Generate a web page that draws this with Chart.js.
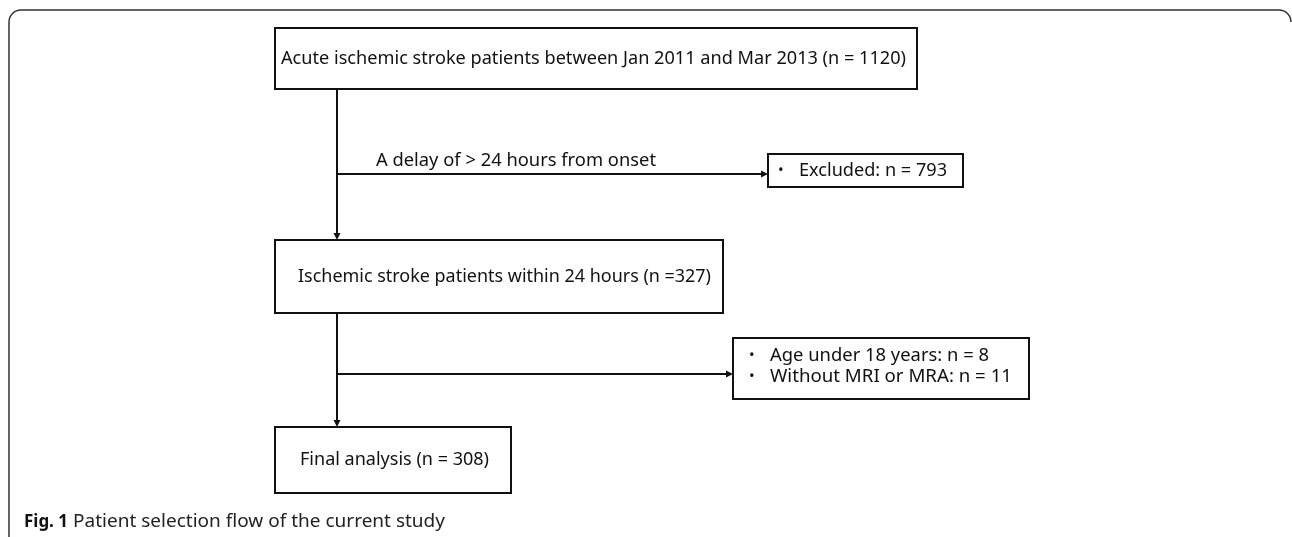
<!DOCTYPE html>
<html>
<head>
<meta charset="utf-8">
<script src="https://cdn.jsdelivr.net/npm/chart.js@4"></script>
<style>
  html, body { margin: 0; padding: 0; background: #fff; }
  canvas { display: block; }
</style>
</head>
<body>
<canvas id="flowChart" width="1292" height="537"></canvas>
<script>
// flow data
const stageLabels = [
    "Acute ischemic stroke patients between Jan 2011 and Mar 2013",
    "Ischemic stroke patients within 24 hours",
    "Final analysis"
];
const stageCounts = [1120, 327, 308];
const stageCountSep = [" = ", " =", " = "];
const branchLabels = ["A delay of > 24 hours from onset", ""];
const exclusionReasons = [["Excluded"], ["Age under 18 years", "Without MRI or MRA"]];
const exclusionCounts = [[793], [8, 11]];
const captionBold = "Fig. 1";
const captionText = "Patient selection flow of the current study";

// layout, in page pixels (x right, y down)
const stageBoxes = [
    { x0: 275, y0: 28, x1: 917, y1: 89, tx: 281, tw: 625 },
    { x0: 275, y0: 240, x1: 723, y1: 313, tx: 298, tw: 413 },
    { x0: 275, y0: 427, x1: 511, y1: 493, tx: 300, tw: 189 }
];
const trunkX = 337;
const branches = [
    { y: 174, x1: 768, label: { x: 376, y: 161, w: 280 },
      box: { x0: 768, y0: 154, x1: 963, y1: 187, bx: 778, tx: 799, ty: [171], tw: [148] } },
    { y: 374, x1: 733, label: null,
      box: { x0: 733, y0: 338, x1: 1029, y1: 399, bx: 749, tx: 770, ty: [356, 377], tw: [219, 242] } }
];
const fontFamily = "'Noto Sans', 'DejaVu Sans', sans-serif";

const flowPlugin = {
    id: "flow",
    afterDraw(chart) {
        const ctx = chart.ctx;
        const sx = chart.scales.x, sy = chart.scales.y;
        const px = v => sx.getPixelForValue(v);
        const py = v => sy.getPixelForValue(v);

        // fit text horizontally to a width while keeping its height
        function text(str, x, y, width, size, weight, color) {
            ctx.save();
            ctx.font = (weight || "normal") + " " + size + "px " + fontFamily;
            ctx.fillStyle = color || "#111";
            ctx.textBaseline = "middle";
            ctx.textAlign = "left";
            const w = ctx.measureText(str).width;
            const k = width ? width / w : 1;
            ctx.translate(px(x), py(y));
            ctx.scale(k, 1);
            ctx.fillText(str, 0, 0);
            ctx.restore();
            return w * k;
        }
        function rect(b) {
            ctx.save();
            ctx.lineWidth = 2;
            ctx.strokeStyle = "#111";
            ctx.strokeRect(px(b.x0), py(b.y0), px(b.x1) - px(b.x0), py(b.y1) - py(b.y0));
            ctx.restore();
        }
        function line(x0, y0, x1, y1) {
            ctx.save();
            ctx.lineWidth = 2;
            ctx.strokeStyle = "#111";
            ctx.beginPath();
            ctx.moveTo(px(x0), py(y0));
            ctx.lineTo(px(x1), py(y1));
            ctx.stroke();
            ctx.restore();
        }
        function arrowHead(x, y, dir) {
            ctx.save();
            ctx.fillStyle = "#111";
            ctx.beginPath();
            const X = px(x), Y = py(y);
            if (dir === "down") {
                ctx.moveTo(X, Y); ctx.lineTo(X - 3.5, Y - 7); ctx.lineTo(X + 3.5, Y - 7);
            } else {
                ctx.moveTo(X, Y); ctx.lineTo(X - 7, Y - 3.5); ctx.lineTo(X - 7, Y + 3.5);
            }
            ctx.closePath();
            ctx.fill();
            ctx.restore();
        }

        // outer rounded frame (open at the bottom and right)
        ctx.save();
        ctx.lineWidth = 1.5;
        ctx.strokeStyle = "#333";
        ctx.beginPath();
        ctx.moveTo(px(9), py(537));
        ctx.lineTo(px(9), py(22));
        ctx.arcTo(px(9), py(10), px(21), py(10), 12);
        ctx.lineTo(px(1279), py(10));
        ctx.arcTo(px(1291), py(10), px(1291), py(22), 12);
        ctx.stroke();
        ctx.restore();

        // stage boxes
        stageBoxes.forEach((b, i) => {
            rect(b);
            const cy = (b.y0 + b.y1) / 2;
            text(stageLabels[i] + " (n" + stageCountSep[i] + stageCounts[i] + ")", b.tx, cy, b.tw, 18);
        });

        // trunk arrows between stages
        for (let i = 0; i < stageBoxes.length - 1; i++) {
            const top = stageBoxes[i].y1, bottom = stageBoxes[i + 1].y0;
            line(trunkX, top, trunkX, bottom - 6);
            arrowHead(trunkX, bottom, "down");
        }

        // exclusion branches
        branches.forEach((br, i) => {
            line(trunkX, br.y, br.x1 - 6, br.y);
            arrowHead(br.x1, br.y, "right");
            if (br.label && branchLabels[i]) {
                text(branchLabels[i], br.label.x, br.label.y, br.label.w, 18);
            }
            rect(br.box);
            exclusionReasons[i].forEach((r, j) => {
                const y = br.box.ty[j];
                text("\u2022", br.box.bx, y, null, 15);
                text(r + ": n = " + exclusionCounts[i][j], br.box.tx, y, br.box.tw[j], 18);
            });
        });

        // caption
        text(captionBold, 24, 522, 44, 17, "bold", "#111");
        text(captionText, 73, 522, 372, 18, "normal", "#222");
    }
};

new Chart(document.getElementById("flowChart"), {
    type: "scatter",
    data: { datasets: [{ data: [], pointRadius: 0 }] },
    options: {
        responsive: false,
        animation: false,
        devicePixelRatio: 1,
        layout: { padding: 0 },
        plugins: { legend: { display: false }, tooltip: { enabled: false } },
        scales: {
            x: { type: "linear", min: 0, max: 1292, display: false },
            y: { type: "linear", min: 0, max: 537, reverse: true, display: false }
        }
    },
    plugins: [flowPlugin]
});
</script>
</body>
</html>
